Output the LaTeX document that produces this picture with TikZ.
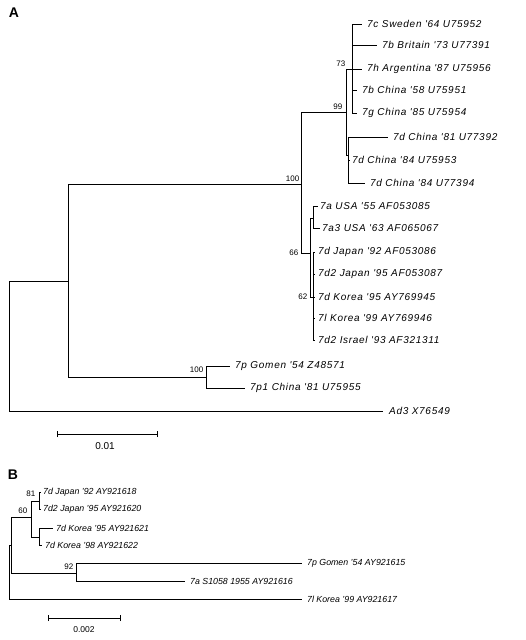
\documentclass[tikz,border=0pt]{standalone}
\usepackage{fontspec}
\setmainfont{Liberation Sans}
\newfontfamily\lblA[LetterSpace=7]{Liberation Sans}
\begin{document}
\begin{tikzpicture}[x=1pt,y=-1pt,
  br/.style={line width=0.8pt,black},
  leafA/.style={anchor=west,inner sep=1pt,font=\lblA\fontsize{10}{12}\selectfont\itshape},
  leafB/.style={anchor=west,inner sep=1pt,font=\fontsize{8.8}{10}\selectfont\itshape},
  boot/.style={inner sep=0.5pt,font=\fontsize{8}{9}\selectfont},
  panel/.style={font=\fontsize{14}{16}\selectfont\bfseries,inner sep=0pt}]
\useasboundingbox (0,0) rectangle (525,640);
\node[panel] (labA) at (14,13) {A};
% ---------- Panel A ----------
\coordinate (rA) at (9,346);
\coordinate (n1) at (68,281);
\coordinate (n100a) at (301,184);
\coordinate (n99) at (346,112);
\coordinate (n73) at (352,69);
\coordinate (nCh) at (348,155);
\coordinate (n66) at (310,253);
\coordinate (nUSA) at (313,218);
\coordinate (n62) at (313,297);
\coordinate (n100b) at (206,377);
% leaves
\coordinate (lSwe) at (362,24);
\coordinate (lBri) at (377,45);
\coordinate (lArg) at (362,69);
\coordinate (lC58) at (357,90);
\coordinate (lC85) at (357,113);
\coordinate (lC81) at (388,137);
\coordinate (lC84a) at (350,160);
\coordinate (lC84b) at (365,183);
\coordinate (lUSA55) at (318,206);
\coordinate (lUSA63) at (320,228);
\coordinate (lJ92) at (315,252);
\coordinate (lJ95) at (315,274);
\coordinate (lK95) at (315,297);
\coordinate (lK99) at (315,318);
\coordinate (lIsr) at (315,340);
\coordinate (lGom) at (230,366);
\coordinate (lC81p) at (245,388);
\coordinate (lAd3) at (383,411);
\draw[br] (rA) |- (n1);
\draw[br] (rA) |- (lAd3);
\draw[br] (n1) |- (n100a);
\draw[br] (n1) |- (n100b);
\draw[br] (n100a) |- (n99);
\draw[br] (n100a) |- (n66);
\draw[br] (n99) |- (n73);
\draw[br] (n99) |- (nCh);
\foreach \c in {lSwe,lBri,lArg,lC58,lC85} \draw[br] (n73) |- (\c);
\foreach \c in {lC81,lC84a,lC84b} \draw[br] (nCh) |- (\c);
\draw[br] (n66) |- (nUSA);
\draw[br] (n66) |- (n62);
\foreach \c in {lUSA55,lUSA63} \draw[br] (nUSA) |- (\c);
\foreach \c in {lJ92,lJ95,lK95,lK99,lIsr} \draw[br] (n62) |- (\c);
\draw[br] (n100b) |- (lGom);
\draw[br] (n100b) |- (lC81p);
\node[leafA] (tSwe) at ([xshift=4pt]lSwe) {7c Sweden '64 U75952};
\node[leafA] (tBri) at ([xshift=4pt]lBri) {7b Britain '73 U77391};
\node[leafA] (tArg) at ([xshift=4pt]lArg) {7h Argentina '87 U75956};
\node[leafA] (tC58) at ([xshift=4pt]lC58) {7b China '58 U75951};
\node[leafA] (tC85) at ([xshift=4pt]lC85) {7g China '85 U75954};
\node[leafA] (tC81) at ([xshift=4pt]lC81) {7d China '81 U77392};
\node[leafA] (tC84a) at ([xshift=1pt]lC84a) {7d China '84 U75953};
\node[leafA] (tC84b) at ([xshift=4pt]lC84b) {7d China '84 U77394};
\node[leafA] (tUSA55) at ([xshift=1pt]lUSA55) {7a USA '55 AF053085};
\node[leafA] (tUSA63) at ([xshift=1pt]lUSA63) {7a3 USA '63 AF065067};
\node[leafA] (tJ92) at ([xshift=2pt]lJ92) {7d Japan '92 AF053086};
\node[leafA] (tJ95) at ([xshift=2pt]lJ95) {7d2 Japan '95 AF053087};
\node[leafA] (tK95) at ([xshift=2pt]lK95) {7d Korea '95 AY769945};
\node[leafA] (tK99) at ([xshift=2pt]lK99) {7l Korea '99 AY769946};
\node[leafA] (tIsr) at ([xshift=2pt]lIsr) {7d2 Israel '93 AF321311};
\node[leafA] (tGom) at ([xshift=4pt]lGom) {7p Gomen '54 Z48571};
\node[leafA] (tC81p) at ([xshift=4pt]lC81p) {7p1 China '81 U75955};
\node[leafA] (tAd3) at ([xshift=5pt]lAd3) {Ad3 X76549};
\node[boot,anchor=south east] (b100a) at (300,182) {100};
\node[boot,anchor=south east] (b99) at (343,110) {99};
\node[boot,anchor=south east] (b73) at (346,67) {73};
\node[boot,anchor=east] (b66) at (299,253) {66};
\node[boot,anchor=east] (b62) at (308,297) {62};
\node[boot,anchor=east] (b100b) at (204,370) {100};
% scale bar A
\coordinate (sA1) at (57,434);
\coordinate (sA2) at (157,434);
\draw[br] (sA1) -- (sA2);
\draw[br] ([yshift=-3pt]sA1) -- ([yshift=3pt]sA1);
\draw[br] ([yshift=-3pt]sA2) -- ([yshift=3pt]sA2);
\node[font=\fontsize{10}{12}\selectfont,inner sep=0pt] (sAt) at (105,446) {0.01};
% ---------- Panel B ----------
\node[panel] (labB) at (13,475) {B};
\coordinate (rB) at (9,572);
\coordinate (nB1) at (11,545);
\coordinate (n60) at (31,517);
\coordinate (n81) at (39,501);
\coordinate (nKo) at (39,537);
\coordinate (n92) at (76,573);
\coordinate (mJ92) at (41,492);
\coordinate (mJ95) at (41,509);
\coordinate (mK95) at (53,528);
\coordinate (mK98) at (42,545);
\coordinate (mGom) at (302,563);
\coordinate (mS10) at (185,581);
\coordinate (mK99) at (302,599);
\draw[br] (rB) |- (nB1);
\draw[br] (rB) |- (mK99);
\draw[br] (nB1) |- (n60);
\draw[br] (nB1) |- (n92);
\draw[br] (n60) |- (n81);
\draw[br] (n60) |- (nKo);
\draw[br] (n81) |- (mJ92);
\draw[br] (n81) |- (mJ95);
\draw[br] (nKo) |- (mK95);
\draw[br] (nKo) |- (mK98);
\draw[br] (n92) |- (mGom);
\draw[br] (n92) |- (mS10);
\node[leafB] (uJ92) at ([xshift=1pt]mJ92) {7d Japan '92 AY921618};
\node[leafB] (uJ95) at ([xshift=1pt]mJ95) {7d2 Japan '95 AY921620};
\node[leafB] (uK95) at ([xshift=2pt]mK95) {7d Korea '95 AY921621};
\node[leafB] (uK98) at ([xshift=2pt]mK98) {7d Korea '98 AY921622};
\node[leafB] (uGom) at ([xshift=4pt]mGom) {7p Gomen '54 AY921615};
\node[leafB] (uS10) at ([xshift=4pt]mS10) {7a S1058 1955 AY921616};
\node[leafB] (uK99) at ([xshift=4pt]mK99) {7l Korea '99 AY921617};
\node[boot,anchor=south east] (b81) at (36,497) {81};
\node[boot,anchor=south east] (b60) at (28,514) {60};
\node[boot,anchor=south east] (b92) at (74,570) {92};
% scale bar B
\coordinate (sB1) at (48,618);
\coordinate (sB2) at (120,618);
\draw[br] (sB1) -- (sB2);
\draw[br] ([yshift=-3pt]sB1) -- ([yshift=3pt]sB1);
\draw[br] ([yshift=-3pt]sB2) -- ([yshift=3pt]sB2);
\node[font=\fontsize{8.5}{10}\selectfont,inner sep=0pt] (sBt) at (84,630) {0.002};
\end{tikzpicture}
\end{document}
